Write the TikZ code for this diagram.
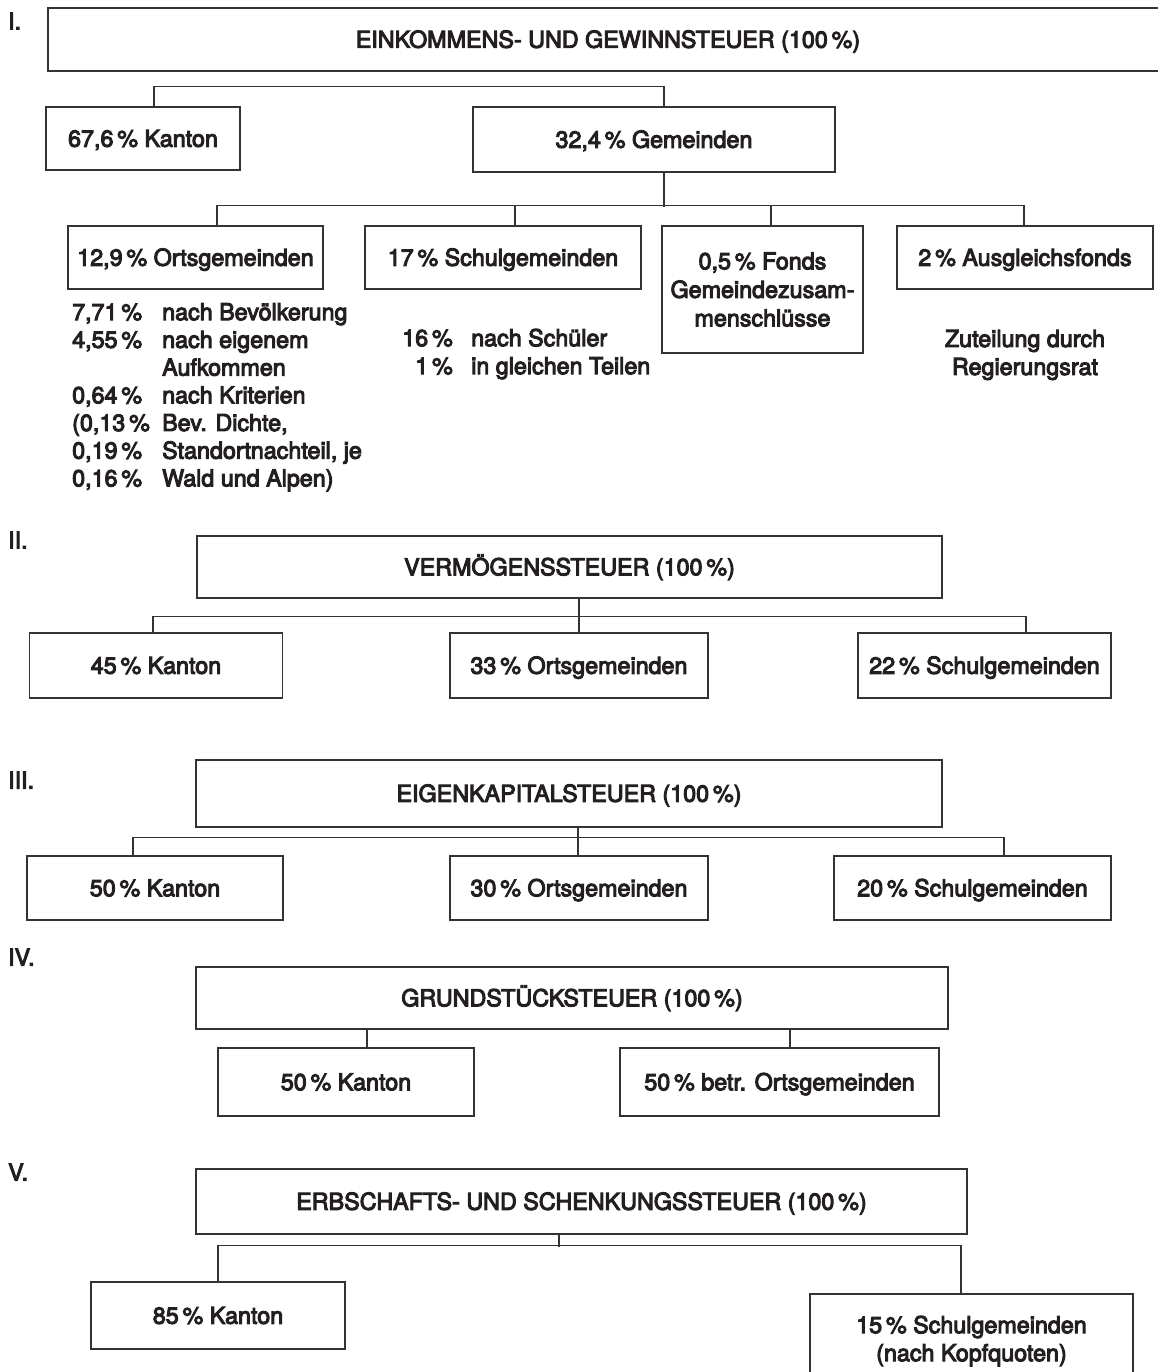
\documentclass[tikz,border=0pt]{standalone}
\usepackage{fontspec}
\setmainfont{TeX Gyre Heros}
\definecolor{ink}{HTML}{231F20}
\definecolor{rule}{HTML}{333333}
\newcommand{\heavytext}{\special{pdf:literal direct 2 Tr 1.0 w}}
\begin{document}
\begin{tikzpicture}[x=1pt,y=-1pt,
  font=\heavytext\fontsize{23.3}{28}\selectfont,
  box/.style={draw=rule, line width=1.7pt, inner sep=0pt, anchor=center, text=ink, align=center},
  one/.style={text height=16.5pt, text depth=0pt},
  conn/.style={draw=rule, line width=1.1pt},
  num/.style={anchor=west, inner sep=0pt, text=ink},
  note/.style={inner sep=0pt, text=ink}]
\useasboundingbox (0,0) rectangle (1157,1372);

% ---------- I ----------
\node[num] (r1) at (8,21) {I.};
\node[box,one,minimum width=1120pt,minimum height=63pt] (t1) at (608,39.5) {EINKOMMENS- UND GEWINNSTEUER (100\,\%)};
\node[box,one,minimum width=194pt,minimum height=63pt] (k1) at (143,138.5) {67,6\,\% Kanton};
\node[box,one,minimum width=362pt,minimum height=65pt] (g1) at (654,139.5) {32,4\,\% Gemeinden};
\node[box,one,minimum width=255pt,minimum height=63pt] (o1) at (195.5,257.5) {12,9\,\% Ortsgemeinden};
\node[box,one,minimum width=276pt,minimum height=63pt] (s1) at (503,257.5) {17\,\% Schulgemeinden};
\node[box,minimum width=201pt,minimum height=127pt,font=\heavytext\fontsize{23.3}{28.5}\selectfont] (f1) at (762.5,289.5) {0,5\,\% Fonds\\Gemeindezusam-\\menschlüsse};
\node[box,one,minimum width=256pt,minimum height=63pt] (a1) at (1025,257.5) {2\,\% Ausgleichsfonds};

\draw[conn] ([xshift=11pt]k1.north) -- ++(0,-20) -| ([xshift=10pt]g1.north);
\draw[conn] ([xshift=10pt]g1.south) -- ++(0,34);
\draw[conn] ([xshift=21.5pt]o1.north) -- ++(0,-20) -| ([xshift=-1pt]a1.north);
\draw[conn] ([xshift=12pt]s1.north) -- ++(0,-20);
\draw[conn] ([xshift=8.5pt]f1.north) -- ++(0,-20);

\node[note,anchor=north west] (o1n) at (72,300.6) {\fontsize{23.3}{27.7}\selectfont
\begin{tabular}{@{}p{90pt}@{}l@{}}
7,71\,\% & nach Bevölkerung\\
4,55\,\% & nach eigenem\\
 & Aufkommen\\
0,64\,\% & nach Kriterien\\
(0,13\,\% & Bev. Dichte,\\
0,19\,\% & Standortnachteil, je\\
0,16\,\% & Wald und Alpen)
\end{tabular}};
\node[note,anchor=north east] (s1p) at (453,326.4) {\begin{tabular}{@{}r@{}}16\,\%\\1\,\%\end{tabular}};
\node[note,anchor=north west] (s1n) at (471,326.4) {\begin{tabular}{@{}l@{}}nach Schüler\\in gleichen Teilen\end{tabular}};
\node[note,align=center] (a1n) at (1025,355) {Zuteilung durch\\Regierungsrat};

% ---------- II ----------
\node[num] (r2) at (8,540) {II.};
\node[box,one,minimum width=745pt,minimum height=62pt] (t2) at (569.5,567) {VERMÖGENSSTEUER (100\,\%)};
\node[box,one,minimum width=253pt,minimum height=65pt] (k2) at (156,665.5) {45\,\% Kanton};
\node[box,one,minimum width=258pt,minimum height=65pt] (o2) at (579,665.5) {33\,\% Ortsgemeinden};
\node[box,one,minimum width=253pt,minimum height=65pt] (s2) at (984.5,665.5) {22\,\% Schulgemeinden};
\draw[conn] ([xshift=9.5pt]t2.south) -- ++(0,19);
\draw[conn] ([xshift=-3pt]k2.north) -- ++(0,-16) -| ([xshift=41.5pt]s2.north);
\draw[conn] (o2.north) -- ++(0,-16);

% ---------- III ----------
\node[num] (r3) at (8,780) {III.};
\node[box,one,minimum width=746pt,minimum height=67pt] (t3) at (569,793.5) {EIGENKAPITALSTEUER (100\,\%)};
\node[box,one,minimum width=256pt,minimum height=64pt] (k3) at (155,888) {50\,\% Kanton};
\node[box,one,minimum width=258pt,minimum height=64pt] (o3) at (579,888) {30\,\% Ortsgemeinden};
\node[box,one,minimum width=277pt,minimum height=64pt] (s3) at (972.5,888) {20\,\% Schulgemeinden};
\draw[conn] ([xshift=9pt]t3.south) -- ++(0,11);
\draw[conn] ([xshift=-22pt]k3.north) -- ++(0,-18) -| ([xshift=31.5pt]s3.north);
\draw[conn] ([xshift=-1pt]o3.north) -- ++(0,-18);

% ---------- IV ----------
\node[num] (r4) at (8,957) {IV.};
\node[box,one,minimum width=752pt,minimum height=62pt] (t4) at (572,998) {GRUNDSTÜCKSTEUER (100\,\%)};
\node[box,one,minimum width=256pt,minimum height=68pt] (k4) at (346,1082) {50\,\% Kanton};
\node[box,one,minimum width=319pt,minimum height=68pt] (o4) at (779.5,1082) {50\,\% betr. Ortsgemeinden};
\draw[conn] ([xshift=21pt]k4.north) -- ([xshift=21pt]k4.north |- t4.south);
\draw[conn] ([xshift=10.5pt]o4.north) -- ([xshift=10.5pt]o4.north |- t4.south);

% ---------- V ----------
\node[num] (r5) at (8,1172) {V.};
\node[box,one,minimum width=771pt,minimum height=65pt] (t5) at (581.5,1201.5) {ERBSCHAFTS- UND SCHENKUNGSSTEUER (100\,\%)};
\node[box,one,minimum width=254pt,minimum height=67pt] (k5) at (218,1315.5) {85\,\% Kanton};
\node[box,minimum width=323pt,minimum height=94pt] (s5) at (971.5,1341) {15\,\% Schulgemeinden\\(nach Kopfquoten)};
\draw[conn] ([xshift=-22.5pt]t5.south) -- ++(0,12);
\draw[conn] (k5.north) -- ++(0,-36) -| ([xshift=-10.5pt]s5.north);
\end{tikzpicture}
\end{document}
